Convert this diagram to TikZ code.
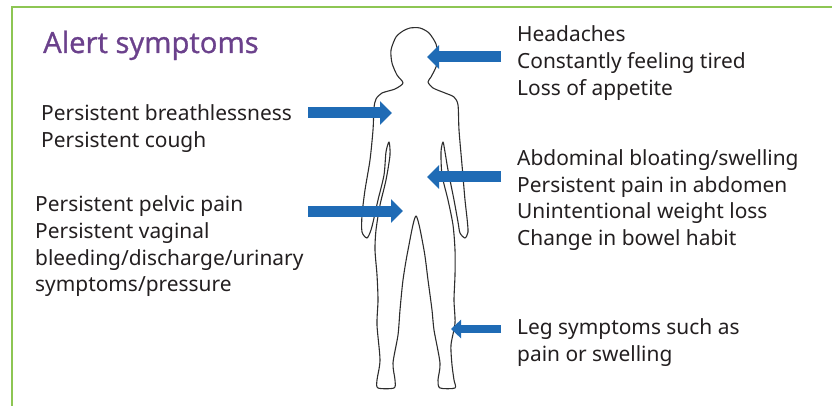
\documentclass[tikz,border=0pt]{standalone}
\usepackage{fontspec}
\setmainfont{Noto Sans}
\newfontfamily\titlefont{Open Sans}[FakeBold=1.0]
\usetikzlibrary{arrows.meta}

\definecolor{framegreen}{RGB}{141,198,83}
\definecolor{titlepurple}{RGB}{107,65,140}
\definecolor{arrowblue}{RGB}{31,107,181}
\definecolor{textgray}{RGB}{35,31,32}
\definecolor{outline}{RGB}{45,45,45}

\begin{document}
\begin{tikzpicture}[x=1pt,y=-1pt,
  % multi-line nodes: the base anchor sits on the last line
  symptom/.style={anchor=base west, inner sep=0pt, align=left, text=textgray,
    font=\fontsize{20.9}{26.7}\selectfont},
  heading/.style={anchor=base west, inner sep=0pt, text=titlepurple,
    font=\titlefont\fontsize{29.3}{34}\selectfont},
  pointer/.style={draw=arrowblue, line width=11pt,
    -{Triangle[width=23pt,length=12pt]}},
  smallpointer/.style={draw=arrowblue, line width=8pt,
    -{Triangle[width=18pt,length=10pt]}},
  frame/.style={draw=framegreen, line width=2pt},
  body/.style={draw=outline, line width=1.1pt, line join=round}
]
\useasboundingbox (0,0) rectangle (832,406);

% green frame on the left and top
\draw[frame] (12,406) -- (12,7) -- (832,7);

% title
\node[heading] (title) at (43,53) {Alert symptoms};

% human figure outline
\draw[body] plot[smooth cycle, tension=0.45] coordinates {
  (410,28) (420,28) (429,33) (436,44) (438,57) (436,67) (431,77) (428,82)
  (433,88) (445,93) (454,97) (458,105)
  (459,130) (462,165) (465,200) (467,218) (468,232) (465,238)
  (460,233) (458,222) (454,200) (448,170) (445,152) (443,142)
  (441,152) (442,175) (448,200) (453,225) (455,250) (455,275)
  (454,300) (455,323) (451,345) (452,365) (454,380) (455,388)
  (440,388) (438,380) (440,363) (434,330) (432,310) (428,280) (424,250)
  (416,216)
  (408,250) (403,280) (400,310) (398,335) (393,363) (395,380) (394,388)
  (378,388) (377,380) (380,360) (377,325) (378,300) (377,275) (375,250)
  (376,230) (380,205) (386,180) (390,155) (389,142)
  (386,152) (384,175) (378,200) (374,218) (371,230) (367,238)
  (362,232) (362,215) (365,190) (370,160) (373,130) (374,108)
  (376,99) (382,93) (395,89) (403,83)
  (397,75) (392,63) (391,50) (396,37) (403,31)};

% symptom lists
\node[symptom] (head) at (517,95.1)
  {Headaches\\Constantly feeling tired\\Loss of appetite};
\node[symptom] (chest) at (41,147.7)
  {Persistent breathlessness\\Persistent cough};
\node[symptom] (abdomen) at (517,245.6)
  {Abdominal bloating/swelling\\Persistent pain in abdomen\\Unintentional weight loss\\Change in bowel habit};
\node[symptom] (pelvis) at (35,291.8)
  {Persistent pelvic pain\\Persistent vaginal\\bleeding/discharge/urinary\\symptoms/pressure};
\node[symptom] (legs) at (517,361.2)
  {Leg symptoms such as\\pain or swelling};

% pointer ends
\coordinate (headtail) at (501,57);
\coordinate (headtip) at (427,57);
\coordinate (chesttail) at (308,113);
\coordinate (chesttip) at (392,113);
\coordinate (abdtail) at (501,177);
\coordinate (abdtip) at (427,177);
\coordinate (pelvtail) at (308,211);
\coordinate (pelvtip) at (403,211);
\coordinate (legtail) at (501,329);
\coordinate (legtip) at (451,329);

% pointers
\draw[pointer] (headtail) -- (headtip);
\draw[pointer] (chesttail) -- (chesttip);
\draw[pointer] (abdtail) -- (abdtip);
\draw[pointer] (pelvtail) -- (pelvtip);
\draw[smallpointer] (legtail) -- (legtip);
\end{tikzpicture}
\end{document}
